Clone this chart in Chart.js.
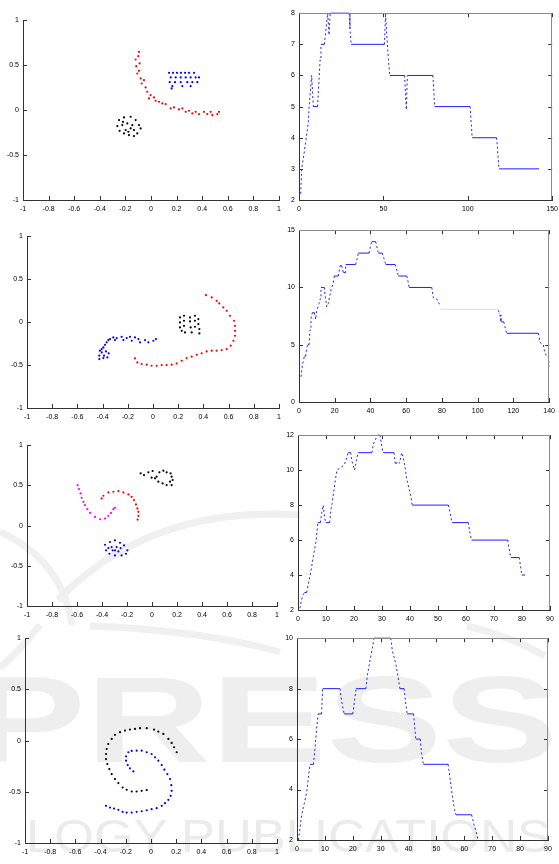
<!DOCTYPE html>
<html>
<head>
<meta charset="utf-8">
<script src="https://cdn.jsdelivr.net/npm/chart.js@4.4.1/dist/chart.umd.min.js"></script>
<style>
  body { margin: 0; background: #fff; }
  #page { position: relative; width: 559px; height: 864px; overflow: hidden; }
  #page canvas { position: absolute; }
  #mark { position: absolute; left: 0; top: 0; }
</style>
</head>
<body>
<div id="page">
  <svg id="mark" width="559" height="864">
    <g fill="none" stroke="#f0f0f0" stroke-width="7">
      <path d="M 0 532 Q 62 560 72 625"/>
      <path d="M 58 600 Q 150 505 300 515"/>
      <path d="M 40 625 Q 20 650 0 668"/>
      <path d="M 90 626 Q 200 630 280 652"/>
      <path d="M 467 626 Q 510 636 545 656"/>
    </g>
    <text x="-30" y="762" font-family="Liberation Sans" font-weight="bold" font-size="122"
          textLength="588" lengthAdjust="spacingAndGlyphs" fill="#eeeeee">PRESS</text>
    <text x="26" y="852" font-family="Liberation Sans" font-size="46"
          textLength="525" lengthAdjust="spacingAndGlyphs" fill="#ebebeb">LOGY PUBLICATIONS</text>
  </svg>
</div>
<script>
// tick labels
const leftXTicks = [-1, -0.8, -0.6, -0.4, -0.2, 0, 0.2, 0.4, 0.6, 0.8, 1];
const leftYTicks = [-1, -0.5, 0, 0.5, 1];
const row1XTicks = [0, 50, 100, 150];
const row1YTicks = [2, 3, 4, 5, 6, 7, 8];
const row2XTicks = [0, 20, 40, 60, 80, 100, 120, 140];
const row2YTicks = [0, 5, 10, 15];
const row3XTicks = [0, 10, 20, 30, 40, 50, 60, 70, 80, 90];
const row3YTicks = [2, 4, 6, 8, 10, 12];
const row4XTicks = [0, 10, 20, 30, 40, 50, 60, 70, 80, 90];
const row4YTicks = [2, 4, 6, 8, 10];

// clusters, left column
const row1Red = [[-0.094,0.648],[-0.099,0.6],[-0.12,0.563],[-0.089,0.519],[-0.115,0.489],[-0.094,0.437],
  [-0.107,0.407],[-0.081,0.352],[-0.055,0.333],[-0.073,0.296],[-0.042,0.252],[-0.029,0.204],[-0.003,0.167],
  [-0.016,0.13],[0.023,0.141],[0.036,0.104],[0.063,0.093],[0.089,0.074],[0.115,0.067],[0.154,0.019],
  [0.18,0.03],[0.219,0.007],[0.245,0.019],[0.271,-0.019],[0.297,-0.007],[0.323,-0.037],[0.349,-0.019],
  [0.375,-0.044],[0.414,-0.019],[0.44,-0.044],[0.466,-0.019],[0.479,-0.056],[0.531,-0.019],[0.518,-0.044]];
const row1Blue = [[0.141,0.415],[0.172,0.415],[0.203,0.415],[0.234,0.415],[0.266,0.415],[0.297,0.415],[0.336,0.415],
  [0.154,0.363],[0.193,0.363],[0.232,0.363],[0.271,0.363],[0.31,0.363],[0.349,0.363],[0.375,0.363],
  [0.146,0.311],[0.188,0.311],[0.232,0.311],[0.284,0.311],[0.323,0.311],[0.362,0.311],
  [0.167,0.267],[0.245,0.267],[0.31,0.267],[0.161,0.241]];
const row1Black = [[-0.25,-0.111],[-0.211,-0.081],[-0.159,-0.074],[-0.12,-0.111],[-0.094,-0.167],[-0.081,-0.204],
  [-0.107,-0.259],[-0.133,-0.289],[-0.172,-0.278],[-0.211,-0.259],[-0.245,-0.23],[-0.263,-0.178],[-0.224,-0.167],
  [-0.185,-0.148],[-0.159,-0.204],[-0.198,-0.222],[-0.146,-0.167],[-0.219,-0.13],[-0.133,-0.222],[-0.177,-0.241]];

const row2Blue = [[-0.426,-0.43],[-0.426,-0.391],[-0.407,-0.353],[-0.421,-0.333],[-0.394,-0.295],[-0.381,-0.264],
  [-0.407,-0.314],[-0.368,-0.236],[-0.355,-0.209],[-0.389,-0.391],[-0.362,-0.411],[-0.373,-0.341],[-0.341,-0.198],
  [-0.315,-0.178],[-0.302,-0.209],[-0.288,-0.186],[-0.249,-0.171],[-0.235,-0.209],[-0.209,-0.186],[-0.183,-0.171],
  [-0.169,-0.217],[-0.143,-0.178],[-0.116,-0.198],[-0.103,-0.236],[-0.063,-0.209],[-0.037,-0.236],[0.003,-0.217],
  [0.024,-0.198],[-0.394,-0.419],[-0.352,-0.364]];
const row2Red = [[-0.143,-0.422],[-0.124,-0.469],[-0.09,-0.488],[-0.05,-0.496],[-0.011,-0.508],[0.029,-0.508],
  [0.069,-0.5],[0.108,-0.5],[0.148,-0.496],[0.188,-0.481],[0.228,-0.45],[0.267,-0.419],[0.307,-0.403],
  [0.347,-0.38],[0.386,-0.364],[0.426,-0.341],[0.466,-0.333],[0.505,-0.333],[0.545,-0.326],[0.585,-0.314],
  [0.617,-0.275],[0.638,-0.217],[0.651,-0.159],[0.651,-0.101],[0.651,-0.043],[0.643,0.016],[0.611,0.074],
  [0.585,0.132],[0.558,0.171],[0.526,0.217],[0.505,0.248],[0.466,0.287],[0.421,0.314]];
const row2Black = [[0.214,0.054],[0.214,-0.004],[0.214,-0.062],[0.228,-0.101],[0.246,0.074],[0.246,0.016],
  [0.246,-0.043],[0.254,-0.12],[0.294,0.054],[0.294,0.008],[0.299,-0.062],[0.307,-0.12],[0.333,0.074],
  [0.333,0.016],[0.333,-0.054],[0.36,0.035],[0.36,-0.023],[0.368,-0.081],[0.368,-0.132]];

const row3Magenta = [[-0.595,0.504],[-0.584,0.454],[-0.571,0.4],[-0.563,0.346],[-0.549,0.296],[-0.536,0.254],
  [-0.517,0.204],[-0.496,0.158],[-0.456,0.108],[-0.416,0.079],[-0.376,0.088],[-0.349,0.121],[-0.328,0.158],
  [-0.309,0.204],[-0.296,0.221]];
const row3Red = [[-0.403,0.338],[-0.389,0.371],[-0.349,0.413],[-0.309,0.421],[-0.269,0.429],[-0.229,0.413],
  [-0.189,0.388],[-0.163,0.358],[-0.144,0.317],[-0.128,0.263],[-0.117,0.213],[-0.109,0.171],[-0.109,0.121],
  [-0.115,0.075]];
const row3Black = [[-0.091,0.65],[-0.064,0.629],[-0.029,0.663],[0.005,0.679],[0.037,0.608],[0.059,0.663],
  [0.091,0.683],[0.117,0.663],[0.149,0.65],[0.157,0.608],[0.165,0.567],[0.157,0.504],[0.117,0.504],
  [0.085,0.525],[0.051,0.546],[0.024,0.588],[-0.003,0.596],[0.144,0.546]];
const row3Blue = [[-0.376,-0.238],[-0.336,-0.204],[-0.296,-0.183],[-0.256,-0.213],[-0.224,-0.246],[-0.197,-0.308],
  [-0.208,-0.35],[-0.243,-0.371],[-0.296,-0.371],[-0.341,-0.35],[-0.368,-0.308],[-0.323,-0.267],[-0.283,-0.267],
  [-0.296,-0.308],[-0.269,-0.321],[-0.315,-0.308],[-0.251,-0.279],[-0.349,-0.279]];

const row4Black = [[0.204,-0.114],[0.183,-0.065],[0.164,-0.023],[0.138,0.016],[0.098,0.065],[0.058,0.088],
  [0.024,0.108],[-0.034,0.121],[-0.087,0.121],[-0.127,0.114],[-0.167,0.108],[-0.206,0.098],[-0.246,0.082],
  [-0.286,0.056],[-0.312,0.016],[-0.339,-0.033],[-0.352,-0.082],[-0.357,-0.131],[-0.357,-0.18],[-0.347,-0.229],
  [-0.331,-0.278],[-0.312,-0.327],[-0.286,-0.376],[-0.259,-0.415],[-0.225,-0.458],[-0.193,-0.48],[-0.153,-0.497],
  [-0.114,-0.497],[-0.074,-0.49],[-0.034,-0.483]];
const row4Blue = [[-0.14,-0.301],[-0.167,-0.271],[-0.185,-0.239],[-0.198,-0.196],[-0.198,-0.154],[-0.18,-0.114],
  [-0.153,-0.101],[-0.114,-0.098],[-0.074,-0.098],[-0.034,-0.114],[0.005,-0.131],[0.032,-0.163],[0.058,-0.196],
  [0.085,-0.239],[0.106,-0.284],[0.13,-0.327],[0.151,-0.376],[0.161,-0.435],[0.164,-0.49],[0.156,-0.539],
  [0.138,-0.578],[0.111,-0.611],[0.085,-0.637],[0.045,-0.66],[0.005,-0.67],[-0.034,-0.68],[-0.074,-0.69],
  [-0.114,-0.696],[-0.153,-0.703],[-0.193,-0.703],[-0.225,-0.696],[-0.259,-0.676],[-0.294,-0.664],
  [-0.325,-0.654],[-0.357,-0.637]];

// step curves, right column
const row1StepX = [1,1.6,3,4.3,5.5,6,7.5,8,8.5,11,12,12.5,13,15,16,17,17.8,18.5,29.7,30.2,30.9,50.6,51.3,52,53,53.8,
  62.6,63,63.6,64.2,79.3,79.8,80.3,101.4,102,102.6,117.1,117.8,118.5,142.3];
const row1StepY = [2.2,3,3.5,4,4.5,5,6,5.5,5,5,6,6.5,7,7,7.5,8,7.3,8,8,7.5,7,7,8,7.3,6.5,6,
  6,5.5,4.9,6,6,5.6,5,5,4.5,4,4,3.5,3,3];

const row2StepX = [1.1,1.9,3.0,3.7,4.3,4.9,5.6,6.2,6.7,7.5,8.6,9.3,10,11.2,11.9,12.3,14.2,14.6,15.5,16.4,17.9,19.2,
  19.8,22,23,23.9,24.8,25.8,26.1,31.7,32.5,33.2,39.2,40,40.7,42.9,43.5,44.4,46.6,47.8,48.5,53.8,54.9,55.6,60.3,
  61.2,61.6,74.3,75.2,77.1,79,95,111.6,112.5,113,114.6,115.5,116.3,134,134.9,136.7,137.7,139.5,140];
const row2StepY = [2.2,3.2,4,4,4.7,5,5,6.3,7.3,7.8,7.8,7.2,8,8.6,9,10,10,9.3,8.3,8.6,9.8,10.4,
  11,11,11.9,11.9,11.3,11.3,12,12,12.5,13,13,13.6,14,14,13.6,13,13,12.4,12,12,11.4,11,11,
  10.4,10,10,9.1,9,8.4,null,8,7.6,7,7,6.4,6,6,5.2,5,4.2,4,3.1];
const row2FaintX = [79, 111.6];
const row2FaintY = [8.1, 8.1];

const row3StepX = [0.7,1.3,1.9,2.3,3.1,3.7,4.6,5.5,6.5,7.1,8,8.5,9,9.5,9.9,11.3,11.8,12.2,12.8,13.4,13.9,16.5,17.2,
  17.9,18.8,19.3,20.2,20.9,21.5,26.4,26.9,28.4,29.3,29.8,30.4,34.3,34.8,35.5,36.3,37,37.5,38.2,38.8,39.6,40.3,
  40.8,53.7,54.4,55,60.8,61.3,62,74.9,75.4,76,79,79.5,79.9,81.1];
const row3StepY = [2.1,2.6,2.9,3,3,3.5,4.2,5.1,6,7,7,7.6,8,7.3,7,7,7.8,8.1,8.8,9.5,10,10.3,10.6,
  11,11,10.5,10,10.6,11,11,11.5,12,12,11.5,11,11,10.3,10.5,10.4,11,10.8,10.2,9.5,9,8.5,
  8,8,7.5,7,7,6.5,6,6,5.5,5,5,4.5,4,4];

const row4StepX = [0.5,1.1,1.7,2.3,3.5,4.1,4.7,5.9,6.5,7.1,7.6,8.8,9.2,15.4,16,16.9,20,20.6,21.2,24.7,25.2,26.3,27,
  27.6,33.6,34.2,35.4,36.2,36.9,38.4,38.9,39.5,41.8,42.2,42.6,44.2,44.6,45.3,54.2,54.8,55.4,55.9,56.5,57,62.6,
  63.5,64.3,64.9];
const row4StepY = [2,2.5,3,3.3,3.9,4.5,5,5,5.7,6.5,7,7,8,8,7.5,7,7,7.5,8,8,8.5,9.2,9.6,
  10,10,9.5,9,8.5,8,8,7.5,7,7,6.5,6,6,5.5,5,5,4.5,4,3.6,3.2,3,3,
  2.6,2.3,2];

Chart.defaults.font.family = "'Liberation Sans', Arial, sans-serif";
Chart.defaults.font.size = 7;
Chart.defaults.color = '#000';

const pairs = (list) => list.map(([x, y]) => ({ x, y }));
const zip = (xs, ys) => xs.map((x, i) => ({ x, y: ys[i] }));

// MATLAB style ticks pointing into the plot, optional full box
const matlabAxes = {
  id: 'matlabAxes',
  afterDatasetsDraw(chart, args, opts) {
    const { ctx, chartArea: a, scales: { x, y } } = chart;
    ctx.save();
    ctx.lineWidth = 1;
    ctx.strokeStyle = '#333';
    ctx.beginPath();
    x.ticks.forEach(t => {
      const px = Math.round(x.getPixelForValue(t.value)) + 0.5;
      ctx.moveTo(px, a.bottom); ctx.lineTo(px, a.bottom - 4);
      if (opts.box) { ctx.moveTo(px, a.top); ctx.lineTo(px, a.top + 4); }
    });
    y.ticks.forEach(t => {
      const py = Math.round(y.getPixelForValue(t.value)) + 0.5;
      ctx.moveTo(a.left, py); ctx.lineTo(a.left + 4, py);
      if (opts.box) { ctx.moveTo(a.right, py); ctx.lineTo(a.right - 4, py); }
    });
    ctx.stroke();
    if (opts.box) {
      ctx.strokeStyle = '#8a8a8a';
      ctx.beginPath();
      ctx.moveTo(a.left, Math.round(a.top) + 0.5); ctx.lineTo(a.right, Math.round(a.top) + 0.5);
      ctx.moveTo(Math.round(a.right) - 0.5, a.top); ctx.lineTo(Math.round(a.right) - 0.5, a.bottom);
      ctx.stroke();
    }
    ctx.restore();
  }
};

function axis(ticks, isX) {
  return {
    type: 'linear',
    min: ticks[0],
    max: ticks[ticks.length - 1],
    afterBuildTicks: s => { s.ticks = ticks.map(v => ({ value: v })); },
    afterFit: s => { if (isX) s.height = 22; else s.width = 24; },
    ticks: { autoSkip: false, maxRotation: 0, padding: isX ? 5 : 4, callback: v => String(v) },
    grid: { drawOnChartArea: false, drawTicks: false },
    border: { display: true, color: '#333' }
  };
}

function scatterSet(list, color) {
  return {
    data: pairs(list), showLine: false,
    pointRadius: 1.1, pointBorderWidth: 0, backgroundColor: color, borderColor: color
  };
}

function stepSet(xs, ys, color) {
  return {
    data: zip(xs, ys), showLine: true, spanGaps: false, clip: 3,
    borderColor: color || '#1f1fff', borderWidth: 1, pointRadius: 0,
    segment: { borderDash: c => (c.p0.parsed.y === c.p1.parsed.y ? undefined : [2, 2.5]) }
  };
}

const panels = [
  { area: [23, 20, 256, 180], xt: leftXTicks, yt: leftYTicks, box: false,
    sets: [scatterSet(row1Red, '#ff0000'), scatterSet(row1Blue, '#0000ff'), scatterSet(row1Black, '#000000')] },
  { area: [299, 13, 254, 187], xt: row1XTicks, yt: row1YTicks, box: true,
    sets: [stepSet(row1StepX, row1StepY)] },
  { area: [27, 236, 252, 172], xt: leftXTicks, yt: leftYTicks, box: false,
    sets: [scatterSet(row2Blue, '#0000ff'), scatterSet(row2Red, '#ff0000'), scatterSet(row2Black, '#000000')] },
  { area: [299, 230, 251, 172], xt: row2XTicks, yt: row2YTicks, box: true,
    sets: [stepSet(row2StepX, row2StepY), stepSet(row2FaintX, row2FaintY, 'rgba(170,170,255,0.45)')] },
  { area: [27, 445, 250, 161], xt: leftXTicks, yt: leftYTicks, box: false,
    sets: [scatterSet(row3Magenta, '#ff00ff'), scatterSet(row3Red, '#ff0000'),
           scatterSet(row3Black, '#000000'), scatterSet(row3Blue, '#0000ff')] },
  { area: [298, 435, 252, 175], xt: row3XTicks, yt: row3YTicks, box: true,
    sets: [stepSet(row3StepX, row3StepY)] },
  { area: [25, 638, 252, 205], xt: leftXTicks, yt: leftYTicks, box: false,
    sets: [scatterSet(row4Black, '#000000'), scatterSet(row4Blue, '#0000ff')] },
  { area: [297, 638, 251, 202], xt: row4XTicks, yt: row4YTicks, box: true,
    sets: [stepSet(row4StepX, row4StepY)] }
];

const page = document.getElementById('page');
panels.forEach(p => {
  const [l, t, w, h] = p.area;
  const cv = document.createElement('canvas');
  cv.width = w + 24 + 10;
  cv.height = h + 8 + 22;
  cv.style.left = (l - 24) + 'px';
  cv.style.top = (t - 8) + 'px';
  page.appendChild(cv);
  new Chart(cv, {
    type: 'scatter',
    data: { datasets: p.sets },
    options: {
      responsive: false,
      animation: false,
      devicePixelRatio: 1,
      layout: { padding: { left: 0, top: 8, right: 10, bottom: 0 } },
      plugins: { legend: { display: false }, tooltip: { enabled: false }, matlabAxes: { box: p.box } },
      scales: { x: axis(p.xt, true), y: axis(p.yt, false) }
    },
    plugins: [matlabAxes]
  });
});
</script>
</body>
</html>
